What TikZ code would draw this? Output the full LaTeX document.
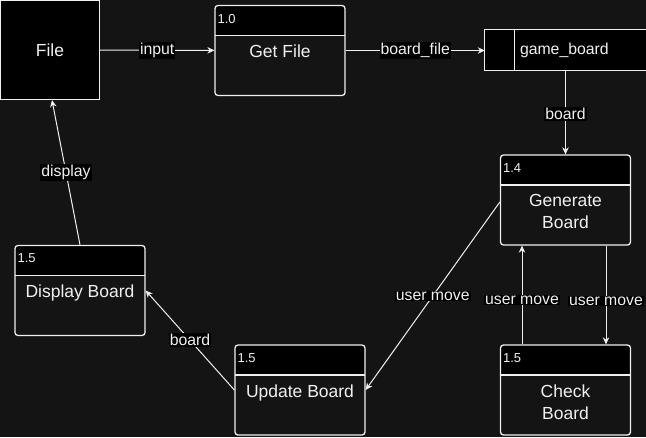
\documentclass[tikz,border=0pt]{standalone}
\usepackage{fontspec}
\setmainfont{Liberation Sans}
\usepackage{xcolor}
\usepackage{tikz}
\usetikzlibrary{arrows.meta,calc,positioning}
\definecolor{bgdark}{HTML}{141414}
\definecolor{txtlight}{HTML}{F0F0F0}

\begin{document}
\begin{tikzpicture}[x=1pt,y=-1pt,>={Stealth[length=7pt,width=6.5pt]},
    flow/.style={->,draw=txtlight,line width=1pt},
    lbl/.style={fill=black,text=txtlight,inner sep=1pt,font=\fontsize{15.8}{18}\selectfont},
    proc/.style={draw=txtlight,line width=1.3pt,rounded corners=3pt,fill=bgdark,
      minimum width=130pt,minimum height=90pt,inner sep=0pt,
      path picture={
        \fill[black] (path picture bounding box.north west) rectangle ([yshift=-30pt]path picture bounding box.north east);
        \draw[txtlight,line width=1.3pt] ([yshift=-30pt]path picture bounding box.north west) -- ([yshift=-30pt]path picture bounding box.north east);}},
    procnum/.style={inner sep=0pt,text=txtlight,font=\fontsize{13}{15}\selectfont},
    proctitle/.style={inner sep=0pt,align=center,text=txtlight,font=\fontsize{17.5}{22}\selectfont}]
    \useasboundingbox (0,0) rectangle (646,437);
    \fill[bgdark] (0,0) rectangle (646,437);

    % externe Quelle und Datenspeicher (rechts offen, ueber den Rand hinaus)
    \node[draw=txtlight,fill=black,line width=1.2pt,minimum size=99pt,proctitle] (file) at (50,50) {File};
    \node[fill=black,minimum width=170pt,minimum height=40pt] (store) at (570,50) {};
    \draw[txtlight,line width=1.2pt] (store.north east) -- (store.north west) -- (store.south west) -- (store.south east);
    \draw[txtlight,line width=1.2pt] ([xshift=30pt]store.north west) -- ([xshift=30pt]store.south west);
    \node[anchor=west,inner sep=0pt,text=txtlight,font=\fontsize{15.8}{18}\selectfont] (storename) at ([xshift=35pt]store.west) {game\_board};

    % Prozesse: Kasten, Nummer oben links, Titel im unteren Teil
    \node[proc] (get) at (280,50.5) {};
    \node[procnum,below right=9pt and 3pt of get.north west] (getnum) {1.0};
    \node[proctitle,below=40pt of get.north] (gettitle) {Get File};

    \node[proc] (gen) at (565.5,200) {};
    \node[procnum,below right=9pt and 3pt of gen.north west] (gennum) {1.4};
    \node[proctitle,below=40pt of gen.north] (gentitle) {Generate\\Board};

    \node[proc] (check) at (565.5,390) {};
    \node[procnum,below right=9pt and 3pt of check.north west] (checknum) {1.5};
    \node[proctitle,below=40pt of check.north] (checktitle) {Check\\Board};

    \node[proc] (update) at (300,390) {};
    \node[procnum,below right=9pt and 3pt of update.north west] (updatenum) {1.5};
    \node[proctitle,below=40pt of update.north] (updatetitle) {Update Board};

    \node[proc] (display) at (80,290.5) {};
    \node[procnum,below right=9pt and 3pt of display.north west] (displaynum) {1.5};
    \node[proctitle,below=40pt of display.north] (displaytitle) {Display Board};

    % Datenfluesse
    \draw[flow] (file) -- node[lbl]{input} (get);
    \draw[flow] (get) -- node[lbl]{board\_file} (get -| store.west);
    \draw[flow] (store.south -| gen) -- node[lbl,pos=0.52]{board} (gen);
    \draw[flow] ([xshift=-43.5pt]check.north) -- node[lbl,pos=0.45]{user move} ([xshift=-43.5pt]gen.south);
    \draw[flow] ([xshift=40.5pt]gen.south) -- node[lbl,pos=0.56]{user move} ([xshift=40.5pt]check.north);
    \draw[flow] ([yshift=-2pt]gen.west) -- node[lbl]{user move} (update.east);
    \draw[flow] (update.west) -- node[lbl]{board} (display.east);
    \draw[flow] (display.north) -- node[lbl]{display} ([xshift=2pt]file.south);
\end{tikzpicture}
\end{document}
